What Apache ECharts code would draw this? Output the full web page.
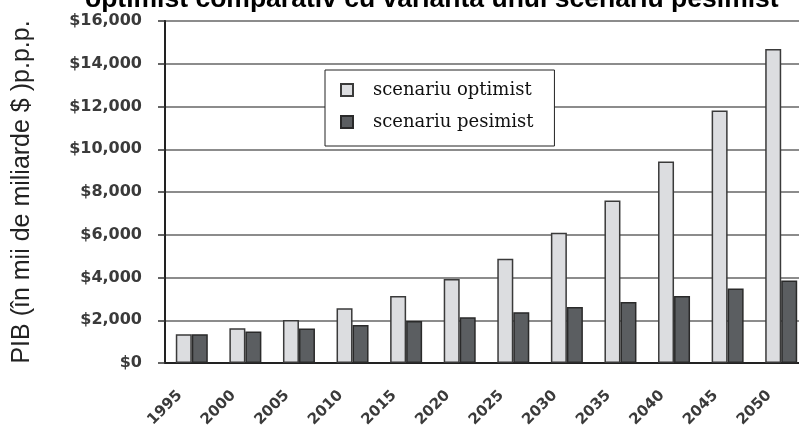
<!DOCTYPE html>
<html>
<head>
<meta charset="utf-8">
<script src="https://cdn.jsdelivr.net/npm/echarts@6/dist/echarts.min.js"></script>
<style>
  html, body { margin: 0; padding: 0; background: #fff; }
  #chart { width: 799px; height: 430px; }
</style>
</head>
<body>
<div id="chart"></div>
<script>
const years = ['1995', '2000', '2005', '2010', '2015', '2020', '2025', '2030', '2035', '2040', '2045', '2050']
const optimist = [1350, 1630, 2010, 2560, 3140, 3930, 4880, 6090, 7600, 9430, 11810, 14690]
const pesimist = [1350, 1470, 1610, 1780, 1970, 2140, 2380, 2620, 2850, 3130, 3480, 3860]
const yTicks = [0, 2000, 4000, 6000, 8000, 10000, 12000, 14000, 16000]

const chart = echarts.init(document.getElementById('chart'))

const tickFont = {
  fontFamily: 'DejaVu Sans',
  fontWeight: 'bold',
  fontSize: 15,
  color: '#3a3a3a'
}

chart.setOption({
  animation: false,
  title: {
    text: 'optimist comparativ cu varianta unui scenariu pesimist',
    left: 85,
    top: -14,
    padding: 0,
    textStyle: {
      fontFamily: 'Liberation Sans',
      fontWeight: 'bold',
      fontSize: 26.5,
      color: '#000'
    }
  },
  legend: {
    orient: 'vertical',
    left: 325,
    top: 70,
    padding: [10, 21, 14, 15],
    itemGap: 12,
    itemWidth: 12,
    itemHeight: 12,
    icon: 'rect',
    backgroundColor: '#fff',
    borderColor: '#222',
    borderWidth: 1,
    borderRadius: 0,
    textStyle: {
      fontFamily: 'DejaVu Serif',
      fontSize: 18,
      lineHeight: 20,
      color: '#111',
      padding: [0, 0, 0, 15]
    },
    data: ['scenariu optimist', 'scenariu pesimist']
  },
  grid: {
    left: 165,
    right: -9,
    top: 21,
    bottom: 67,
    show: true,
    borderColor: '#555',
    borderWidth: 2,
    backgroundColor: 'transparent',
    outerBoundsMode: 'none'
  },
  xAxis: {
    type: 'category',
    data: years,
    axisLine: { lineStyle: { color: '#222', width: 2 } },
    axisTick: { length: 6, lineStyle: { color: '#555', width: 1.5 } },
    axisLabel: Object.assign({ rotate: 45, margin: 18, padding: [0, 17, 0, 0], interval: 0 }, tickFont)
  },
  yAxis: {
    type: 'value',
    min: yTicks[0],
    max: yTicks[yTicks.length - 1],
    interval: 2000,
    name: 'PIB (în mii de miliarde $ )p.p.p.',
    nameLocation: 'middle',
    nameRotate: 90,
    nameGap: 130,
    nameTextStyle: {
      fontFamily: 'Liberation Sans',
      fontSize: 25,
      color: '#222'
    },
    axisLine: { show: true, lineStyle: { color: '#222', width: 2 } },
    axisTick: { show: true, length: 7, lineStyle: { color: '#333', width: 1.5 } },
    axisLabel: Object.assign({
      margin: 23,
      formatter: v => '$' + v.toLocaleString('en-US')
    }, tickFont, { fontSize: 16 }),
    splitLine: { lineStyle: { color: '#8c8c8c', width: 2 } }
  },
  series: [
    {
      name: 'scenariu optimist',
      type: 'bar',
      data: optimist,
      barWidth: 16,
      barGap: '0%',
      itemStyle: { color: '#dcdde0', borderColor: '#3a3a3a', borderWidth: 1.5 }
    },
    {
      name: 'scenariu pesimist',
      type: 'bar',
      data: pesimist,
      barWidth: 16,
      barGap: '0%',
      itemStyle: { color: '#5b5e61', borderColor: '#2a2a2a', borderWidth: 1.5 }
    }
  ]
})

window.onresize = function () {
  chart.resize()
}
</script>
</body>
</html>
